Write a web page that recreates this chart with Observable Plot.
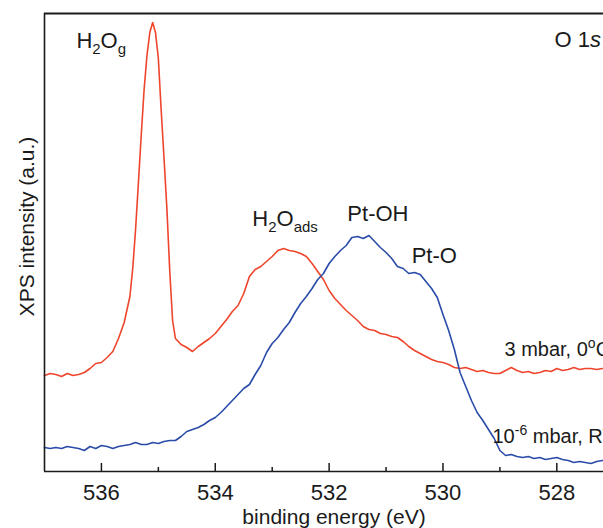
<!DOCTYPE html>
<html>
<head>
<meta charset="utf-8">
<script src="https://cdn.jsdelivr.net/npm/d3@7"></script>
<script src="https://cdn.jsdelivr.net/npm/@observablehq/plot@0.6"></script>
<style>
  html, body { margin: 0; padding: 0; background: #fff; }
  #chart svg { display: block; }
</style>
</head>
<body>
<div id="chart"></div>
<script>
// O 1s spectra: binding energy (eV) and intensity (a.u.)
const wetEnergy = [
  537.0, 536.9, 536.8, 536.7, 536.6, 536.5, 536.4, 536.3, 536.2, 536.1,
  536.0, 535.9, 535.8, 535.7, 535.6, 535.5, 535.45, 535.4, 535.35, 535.3,
  535.25, 535.2, 535.15, 535.1, 535.05, 535.0, 534.95, 534.9, 534.85, 534.8,
  534.75, 534.7, 534.6, 534.5, 534.4, 534.3, 534.2, 534.1, 534.0, 533.9,
  533.8, 533.7, 533.6, 533.5, 533.4, 533.3, 533.2, 533.1, 533.0, 532.9,
  532.8, 532.7, 532.6, 532.5, 532.4, 532.3, 532.2, 532.1, 532.0, 531.9,
  531.8, 531.7, 531.6, 531.5, 531.4, 531.3, 531.2, 531.1, 531.0, 530.9,
  530.8, 530.7, 530.6, 530.5, 530.4, 530.3, 530.2, 530.1, 530.0, 529.9,
  529.8, 529.7, 529.6, 529.5, 529.4, 529.3, 529.2, 529.1, 529.0, 528.9,
  528.8, 528.7, 528.6, 528.5, 528.4, 528.3, 528.2, 528.1, 528.0, 527.9,
  527.8, 527.7, 527.6, 527.5, 527.4, 527.3, 527.2
];
// 3 mbar water, 0 °C
const wetIntensity = [
  9.6, 9.8, 9.7, 9.5, 9.8, 9.6, 9.7, 9.9, 10.3, 10.8,
  10.9, 11.4, 12.0, 13.3, 14.9, 17.5, 20.3, 24.2, 28.9, 33.7,
  38.2, 41.6, 43.9, 44.9, 43.9, 41.3, 36.1, 31.3, 26.3, 20.1,
  15.1, 13.3, 12.7, 12.4, 12.0, 12.5, 12.9, 13.3, 13.8, 14.5,
  15.2, 16.0, 16.6, 17.8, 19.5, 20.2, 20.5, 21.0, 21.5, 22.1,
  22.3, 22.1, 22.0, 21.8, 21.5, 20.8, 20.0, 19.2, 18.1, 17.3,
  16.7, 16.1, 15.6, 15.1, 14.5, 14.2, 14.1, 13.8, 13.7, 13.5,
  13.4, 13.0, 12.5, 12.1, 11.8, 11.5, 11.2, 11.0, 10.9, 10.7,
  10.4, 10.3, 10.4, 10.2, 10.0, 10.1, 9.9, 9.8, 9.8, 10.1,
  10.4, 10.1, 9.9, 10.0, 9.8, 9.9, 10.1, 10.0, 10.3, 10.1,
  10.2, 10.4, 10.2, 10.3, 10.3, 10.2, 10.3
];

const uhvEnergy = [
  537.0, 536.9, 536.8, 536.7, 536.6, 536.5, 536.4, 536.3, 536.2, 536.1,
  536.0, 535.9, 535.8, 535.7, 535.6, 535.5, 535.4, 535.3, 535.2, 535.1,
  535.0, 534.9, 534.8, 534.7, 534.6, 534.5, 534.4, 534.3, 534.2, 534.1,
  534.0, 533.9, 533.8, 533.7, 533.6, 533.5, 533.4, 533.3, 533.2, 533.1,
  533.0, 532.9, 532.8, 532.7, 532.6, 532.5, 532.4, 532.3, 532.2, 532.1,
  532.0, 531.9, 531.8, 531.7, 531.6, 531.5, 531.4, 531.3, 531.2, 531.1,
  531.0, 530.9, 530.8, 530.7, 530.6, 530.5, 530.4, 530.3, 530.2, 530.1,
  530.0, 529.9, 529.8, 529.7, 529.6, 529.5, 529.4, 529.3, 529.2, 529.1,
  529.0, 528.9, 528.8, 528.7, 528.6, 528.5, 528.4, 528.3, 528.2, 528.1,
  528.0, 527.9, 527.8, 527.7, 527.6, 527.5, 527.4, 527.3, 527.2
];
// 10^-6 mbar, room temperature
const uhvIntensity = [
  2.4, 2.3, 2.4, 2.3, 2.5, 2.4, 2.3, 2.1, 2.5, 2.3,
  2.6, 2.5, 2.3, 2.5, 2.6, 2.7, 2.9, 2.7, 2.7, 2.9,
  2.8, 3.0, 3.1, 3.1, 3.5, 4.0, 4.2, 4.4, 4.7, 5.1,
  5.4, 5.9, 6.5, 7.1, 7.7, 8.3, 8.7, 9.7, 10.6, 11.9,
  12.8, 13.4, 14.2, 14.9, 15.9, 16.8, 17.5, 18.3, 19.2, 19.8,
  20.8, 21.5, 22.1, 22.6, 23.4, 23.5, 23.3, 23.6, 23.0, 22.4,
  21.9, 21.3, 20.5, 20.3, 19.8, 19.9, 19.7, 19.0, 18.3, 17.4,
  15.7, 14.1, 12.2, 9.9, 8.5, 7.1, 5.9, 5.1, 4.2, 3.3,
  2.1, 1.6, 1.7, 1.5, 1.4, 1.5, 1.3, 1.4, 1.2, 1.3,
  1.4, 1.2, 1.1, 0.9, 1.0, 0.9, 0.8, 1.0, 1.1
];

const majorTicks = [536, 534, 532, 530, 528];
const minorTicks = [535, 533, 531, 529];

const xDomain = [537, 527.18];
const yDomain = [0, 45.8];

const xTitle = "binding energy (eV)";
const yTitle = "XPS intensity (a.u.)";

// Peak and condition labels; parts carry sub/superscript and italic runs
const peakLabels = [
  {text: "H2Og", x: 536.44, y: 42.4, parts: [["H"], ["2", "sub"], ["O"], ["g", "sub"]]},
  {text: "O 1s", x: 528.04, y: 42.5, parts: [["O 1"], ["s", "it"]]},
  {text: "H2Oads", x: 533.35, y: 24.6, parts: [["H"], ["2", "sub"], ["O"], ["ads", "sub"]]},
  {text: "Pt-OH", x: 531.68, y: 25.1},
  {text: "Pt-O", x: 530.55, y: 20.9}
];
const conditionLabels = [
  {text: "3 mbar, 0oC", x: 528.92, y: 11.6, parts: [["3 mbar, 0"], ["o", "sup"], ["C"]]},
  {text: "10-6 mbar, RT", x: 529.13, y: 2.9, parts: [["10"], ["-6", "sup"], [" mbar, RT"]]}
];

const wet = wetEnergy.map((e, i) => ({energy: e, intensity: wetIntensity[i]}));
const uhv = uhvEnergy.map((e, i) => ({energy: e, intensity: uhvIntensity[i]}));

const RED = "#ef452c";
const BLUE = "#2a4ca8";
const INK = "#1a1a1a";
const BIG = 22, SMALL = 20;

const chart = Plot.plot({
  width: 603,
  height: 528,
  marginLeft: 44,
  marginRight: 0,
  marginTop: 13,
  marginBottom: 57,
  style: {fontFamily: "'Liberation Sans', Arial, sans-serif", background: "#fff", color: INK},
  x: {domain: xDomain},
  y: {domain: yDomain, axis: null},
  marks: [
    Plot.line(wet, {x: "energy", y: "intensity", stroke: RED, strokeWidth: 1.6}),
    Plot.line(uhv, {x: "energy", y: "intensity", stroke: BLUE, strokeWidth: 1.6}),
    // frame: left, top and bottom edges
    Plot.ruleX([xDomain[0]], {stroke: INK, strokeWidth: 1.6}),
    Plot.ruleY([yDomain[1]], {stroke: INK, strokeWidth: 1.8}),
    Plot.ruleY([yDomain[0]], {stroke: INK, strokeWidth: 1.6}),
    // inward tick marks
    Plot.axisX(majorTicks, {tickSize: -8, tickFormat: () => "", stroke: INK, strokeWidth: 1.5, label: null}),
    Plot.axisX(minorTicks, {tickSize: -4, tickFormat: () => "", stroke: INK, strokeWidth: 1.5, label: null}),
    Plot.text(majorTicks, {x: d => d, text: d => `${d}`, frameAnchor: "bottom", lineAnchor: "bottom", dy: 28, fontSize: BIG, fill: INK}),
    Plot.text([xTitle], {text: d => d, frameAnchor: "bottom", textAnchor: "middle", lineAnchor: "bottom", dx: 10, dy: 52.5, fontSize: 21, fill: INK}),
    Plot.text([yTitle], {text: d => d, frameAnchor: "left", textAnchor: "middle", rotate: -90, lineAnchor: "bottom", dx: -11, dy: -16, fontSize: 21, fill: INK}),
    Plot.text(peakLabels, {x: "x", y: "y", text: "text", textAnchor: "start", lineAnchor: "bottom", fontSize: BIG, fill: INK}),
    Plot.text(conditionLabels, {x: "x", y: "y", text: "text", textAnchor: "start", lineAnchor: "bottom", fontSize: SMALL, fill: INK})
  ]
});

// Rebuild labels with subscripts, superscripts and italics
const rich = new Map();
for (const d of peakLabels) if (d.parts) rich.set(d.text, {parts: d.parts, fs: BIG});
for (const d of conditionLabels) if (d.parts) rich.set(d.text, {parts: d.parts, fs: SMALL});
d3.select(chart).selectAll("text").each(function () {
  const spec = rich.get(this.textContent);
  if (!spec) return;
  const sel = d3.select(this);
  sel.text(null);
  let shift = 0;
  for (const [s, kind] of spec.parts) {
    const target = kind === "sub" ? 0.28 * spec.fs : kind === "sup" ? -0.4 * spec.fs : 0;
    const ts = sel.append("tspan").attr("dy", target - shift).text(s);
    shift = target;
    if (kind === "sub" || kind === "sup") ts.attr("font-size", Math.round(0.68 * spec.fs));
    if (kind === "it") ts.attr("font-style", "italic");
  }
});

document.getElementById("chart").appendChild(chart);
</script>
</body>
</html>
